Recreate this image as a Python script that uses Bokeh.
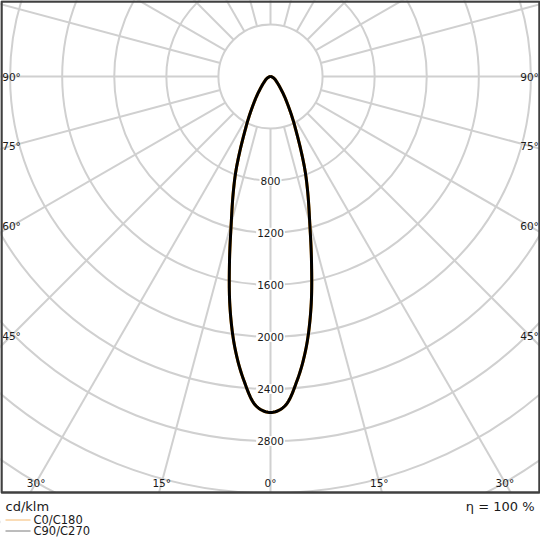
import numpy as np
from bokeh.plotting import figure
from bokeh.models import Range1d
from bokeh.embed import file_html
from bokeh.resources import INLINE
from bokeh.core.properties import value

# ---------------- data ----------------
gamma_deg = [0, 2.5, 5, 7.5, 10, 12.5, 15, 17.5, 20, 22.5, 25, 27.5, 30,
             35, 40, 45, 50, 55, 60, 65, 70, 75, 80, 85, 90]
intensity_c0_c180 = [2581, 2533, 2344, 2099, 1794, 1455, 1165, 958, 781, 607, 469, 372, 293,
                     188, 121, 84, 60, 47, 35, 25, 16, 10, 5, 2, 0]
intensity_c90_c270 = [2581, 2533, 2344, 2099, 1794, 1455, 1165, 958, 781, 607, 469, 372, 293,
                      188, 121, 84, 60, 47, 35, 25, 16, 10, 5, 2, 0]

ring_values = [400, 800, 1200, 1600, 2000, 2400, 2800, 3200, 3600, 4000, 4400, 4800]
ring_label_values = [800, 1200, 1600, 2000, 2400, 2800]
spoke_angles = list(range(0, 360, 15))
side_angle_labels = [90, 75, 60, 45]
bottom_angle_labels = [30, 15, 0]
unit_text = "cd/klm"
efficiency_text = "η = 100 %"
legend_names = ["C0/C180", "C90/C270"]
legend_colors = ["#f5b96e", "#7a7a7a"]

# ---------------- geometry (canvas pixels -> data) ----------------
PX = 0.1302            # pixels per cd/klm
W, H = 540, 540
FL, FR, FT, FB = 1, 539, 1, 492    # drawn frame edges on canvas
OX, OY = 270, 76                    # pole on canvas


def dx(px):
    return (px - OX) / PX


def dy(py):
    return (OY - py) / PX


FONT = "DejaVu Sans"
TXT = "#1a1a1a"
GRID = "#d0d0d0"

p = figure(width=W, height=H, x_range=Range1d(dx(0), dx(W)), y_range=Range1d(dy(H), dy(0)),
           x_axis_type=None, y_axis_type=None, toolbar_location=None,
           output_backend="svg", min_border=0)
p.grid.visible = False
p.background_fill_color = "white"
p.border_fill_color = "white"
p.outline_line_color = None
p.styles = {"position": "absolute", "left": "0px", "top": "0px"}

# concentric circles
p.circle(x=[0] * len(ring_values), y=[0] * len(ring_values), radius=ring_values,
         fill_color=None, line_color=GRID, line_width=2)

# radial lines (from the first ring outward)
a = np.radians(spoke_angles)
r_in, r_out = ring_values[0], 6000
p.segment(x0=r_in * np.sin(a), y0=-r_in * np.cos(a),
          x1=r_out * np.sin(a), y1=-r_out * np.cos(a),
          line_color=GRID, line_width=2)


# curves (smooth centripetal Catmull-Rom through the measured points)
def polar_points(gam, inten):
    g = np.radians(np.array(gam, dtype=float))
    I = np.array(inten, dtype=float)
    gg = np.concatenate([-g[::-1], g[1:]])
    II = np.concatenate([I[::-1], I[1:]])
    return np.column_stack([II * np.sin(gg), -II * np.cos(gg)])


def smooth(pts, n=12):
    pts = np.vstack([pts[0] * 2 - pts[1], pts, pts[-1] * 2 - pts[-2]])
    out = []
    for i in range(1, len(pts) - 2):
        p0, p1, p2, p3 = pts[i - 1], pts[i], pts[i + 1], pts[i + 2]
        t0 = 0.0
        t1 = t0 + max(np.linalg.norm(p1 - p0), 1e-6) ** 0.5
        t2 = t1 + max(np.linalg.norm(p2 - p1), 1e-6) ** 0.5
        t3 = t2 + max(np.linalg.norm(p3 - p2), 1e-6) ** 0.5
        for t in np.linspace(t1, t2, n, endpoint=False):
            a1 = (t1 - t) / (t1 - t0) * p0 + (t - t0) / (t1 - t0) * p1
            a2 = (t2 - t) / (t2 - t1) * p1 + (t - t1) / (t2 - t1) * p2
            a3 = (t3 - t) / (t3 - t2) * p2 + (t - t2) / (t3 - t2) * p3
            b1 = (t2 - t) / (t2 - t0) * a1 + (t - t0) / (t2 - t0) * a2
            b2 = (t3 - t) / (t3 - t1) * a2 + (t - t1) / (t3 - t1) * a3
            out.append((t2 - t) / (t2 - t1) * b1 + (t - t1) / (t2 - t1) * b2)
    out.append(pts[-2])
    return np.array(out)


c0 = smooth(polar_points(gamma_deg, intensity_c0_c180))
c90 = smooth(polar_points(gamma_deg, intensity_c90_c270))
p.line(c0[:, 0], c0[:, 1], line_color="#f39200", line_width=3, line_join="round")
p.line(c90[:, 0], c90[:, 1], line_color="#000000", line_width=3, line_join="round")

# ring value labels
p.text(x=[0] * len(ring_label_values), y=[-v for v in ring_label_values],
       text=[str(v) for v in ring_label_values],
       text_font=value(FONT), text_font_size=value("10.5px"), text_color=TXT,
       text_align="center", text_baseline="middle",
       background_fill_color="white", padding=1)

# angle labels on the sides
side_cx = dx(11)
sx, sy, st = [], [], []
for ang in side_angle_labels:
    yy = -abs(side_cx) / np.tan(np.radians(ang)) if ang != 90 else 0.0
    sx += [side_cx, -side_cx]
    sy += [yy, yy]
    st += [f"{ang}°", f"{ang}°"]
p.text(x=sx, y=sy, text=st, text_font=value(FONT), text_font_size=value("10.5px"),
       text_color=TXT, text_align="center", text_baseline="middle")

# angle labels at the bottom
bot_cy = dy(482)
bx, by, bt = [], [], []
for ang in bottom_angle_labels:
    xx = abs(bot_cy) * np.tan(np.radians(ang))
    if ang == 0:
        bx.append(0.0); by.append(bot_cy); bt.append("0°")
    else:
        bx += [-xx, xx]; by += [bot_cy, bot_cy]; bt += [f"{ang}°", f"{ang}°"]
p.text(x=bx, y=by, text=bt, text_font=value(FONT), text_font_size=value("10.5px"),
       text_color=TXT, text_align="center", text_baseline="middle")

# white band below the diagram frame
p.quad(left=[dx(0)], right=[dx(W)], top=[dy(FB)], bottom=[dy(H)],
       fill_color="white", line_color=None)

# diagram frame
p.quad(left=[dx(FL)], right=[dx(FR)], top=[dy(FT)], bottom=[dy(FB)],
       fill_color=None, line_color="#404040", line_width=2.5)

# texts below the frame
p.text(x=[dx(5)], y=[dy(505.5)], text=[unit_text], text_font=value(FONT),
       text_font_size=value("13px"), text_color=TXT, text_align="left",
       text_baseline="alphabetic")
p.text(x=[dx(534)], y=[dy(505.5)], text=[efficiency_text], text_font=value(FONT),
       text_font_size=value("13px"), text_color=TXT, text_align="right",
       text_baseline="alphabetic")

# legend
leg_rows = [519.5, 530.5]
p.segment(x0=[dx(5)] * 2, x1=[dx(30)] * 2, y0=[dy(v) for v in leg_rows],
          y1=[dy(v) for v in leg_rows], line_color=legend_colors, line_width=1)
p.text(x=[dx(33)] * 2, y=[dy(v) for v in leg_rows], text=legend_names,
       text_font=value(FONT), text_font_size=value("11.5px"), text_color=TXT,
       text_align="left", text_baseline="middle")

open("out.html", "w").write(file_html(p, INLINE))
